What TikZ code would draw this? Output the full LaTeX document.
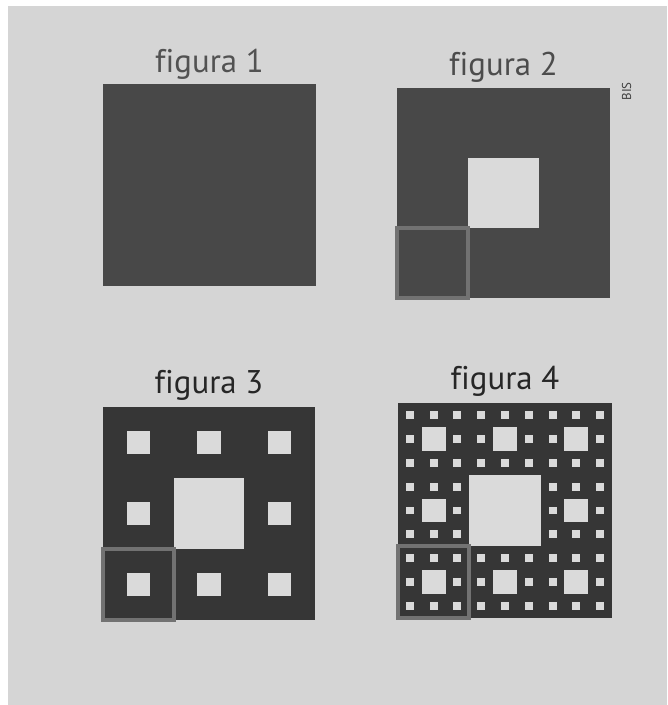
\documentclass[tikz,border=0pt]{standalone}
\usepackage{fontspec}
\setmainfont[Ligatures=NoCommon]{PT Sans}
\usepackage{xcolor}
\usetikzlibrary{positioning}

\definecolor{paper}{HTML}{D5D5D5}
\definecolor{holegray}{HTML}{DADADA}
\definecolor{inklight}{HTML}{484848}
\definecolor{inkdark}{HTML}{363636}
\definecolor{framegray}{HTML}{727272}

% the eight outer cells of a 3x3 grid
\newcommand{\outercells}{0/0,0/1,0/2,1/0,1/2,2/0,2/1,2/2}

\begin{document}
\begin{tikzpicture}[
  x=0.03cm, y=-0.03cm,
  title/.style={inner sep=0pt, font=\fontsize{28}{30}\selectfont},
  hole/.style={fill=holegray},
  cellframe/.style={draw=framegray, line width=3.2pt}
]
  \useasboundingbox (0,0) rectangle (667,705);
  \fill[white] (0,0) rectangle (667,705);
  \fill[paper] (8,6) rectangle (667,705);

  % figura 1
  \begin{scope}[shift={(103,84)}, x=6.39cm, y=-6.06cm]
    \fill[inklight] (0,0) rectangle (1,1);
    \coordinate (top1) at (0.5,0);
  \end{scope}

  % figura 2
  \begin{scope}[shift={(397,88)}, x=6.39cm, y=-6.30cm]
    \fill[inklight] (0,0) rectangle (1,1);
    \fill[hole] (1/3,1/3) rectangle (2/3,2/3);
    \draw[cellframe] (0,2/3) rectangle (1/3,1);
    \coordinate (top2) at (0.5,0);
    \coordinate (side2) at (1,0);
  \end{scope}

  % figura 3
  \begin{scope}[shift={(103,407)}, x=6.36cm, y=-6.39cm]
    \fill[inkdark] (0,0) rectangle (1,1);
    \fill[hole] (1/3,1/3) rectangle (2/3,2/3);
    \foreach \i/\j in \outercells
      \fill[hole] (\i/3+1/9,\j/3+1/9) rectangle +(1/9,1/9);
    \draw[cellframe] (0,2/3) rectangle (1/3,1);
    \coordinate (top3) at (0.5,0);
  \end{scope}

  % figura 4
  \begin{scope}[shift={(398,403)}, x=6.42cm, y=-6.45cm]
    \fill[inkdark] (0,0) rectangle (1,1);
    \fill[hole] (1/3,1/3) rectangle (2/3,2/3);
    \foreach \i/\j in \outercells {
      \fill[hole] (\i/3+1/9,\j/3+1/9) rectangle +(1/9,1/9);
      \foreach \k/\l in \outercells
        \fill[hole] (\i/3+\k/9+1/27,\j/3+\l/9+1/27) rectangle +(1/27,1/27);
    }
    \draw[cellframe] (0,2/3) rectangle (1/3,1);
    \coordinate (top4) at (0.5,0);
  \end{scope}

  \node[title, text=black!68, above=0.14cm of top1] (fig1) {figura 1};
  \node[title, text=black!70, above=0.17cm of top2] (fig2) {figura 2};
  \node[title, text=black!85, above=0.2cm of top3] (fig3) {figura 3};
  \node[title, text=black!85, above=0.2cm of top4] (fig4) {figura 4};
  \node[inner sep=0pt, font=\fontsize{11}{12}\selectfont, text=black!75,
        rotate=90] (bis) at ([xshift=0.5cm, yshift=-0.1cm]side2) {BIS};
\end{tikzpicture}
\end{document}
